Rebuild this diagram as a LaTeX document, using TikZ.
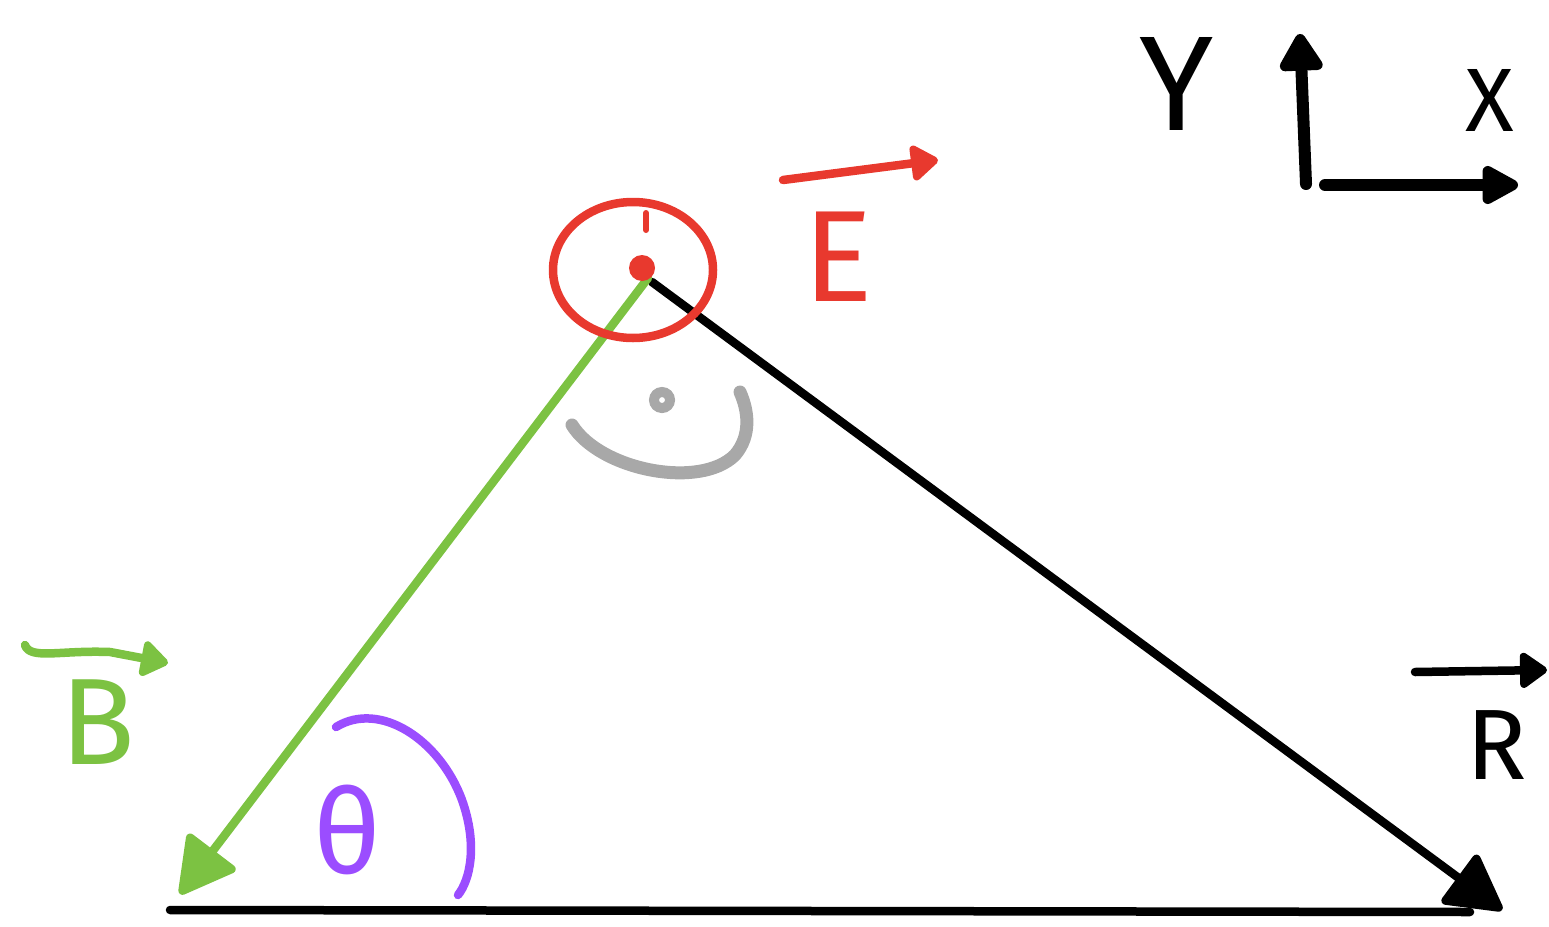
\documentclass[tikz,border=0pt]{standalone}
\usepackage{fontspec}
\setmainfont{Fira Sans}
\usetikzlibrary{arrows.meta,shapes.geometric}
\definecolor{cred}{HTML}{E8392E}
\definecolor{cgreen}{HTML}{7CC242}
\definecolor{cpurple}{HTML}{9B4DFF}
\definecolor{cgray}{HTML}{A8A8A8}
\tikzset{
  ink/.style={line width=8.5pt, line cap=round, line join=round},
  lbl/.style={inner sep=0pt, anchor=center},
  bigtip/.style={-{Triangle[round,length=60pt,width=64pt]}},
  smalltip/.style={-{Triangle[round,length=30pt,width=40pt]}},
}
\begin{document}
\begin{tikzpicture}[x=1pt,y=-1pt]
\useasboundingbox (0,0) rectangle (1549,926);
% vertices
\coordinate (E) at (642,268);
\coordinate (Bt) at (180,894);
\coordinate (Rt) at (1502,910);
\coordinate (O) at (170,910);
% base line
\draw[ink, black] (O) -- (1470,912);
% black diagonal with arrow
\draw[ink, black, bigtip] (652,282) -- (Rt);
% green arrow
\draw[ink, cgreen, bigtip] (E) ++(6,10) -- (Bt);
% red circle and dot
\node[draw=cred, line width=8.5pt, ellipse, minimum width=160pt, minimum height=136pt, inner sep=0pt] (circ) at (633,270) {};
\node[fill=cred, circle, minimum size=26pt, inner sep=0pt] (dot) at (E) {};
\draw[ink, cred, line width=6pt] (646,213) -- (646,230);
% E label
\node[lbl, text=cred, font=\fontsize{130}{130}\selectfont] (Elbl) at (838,257) {E};
\coordinate (Ea1) at (783,180);
\coordinate (Ea2) at (938,160);
\draw[ink, cred, smalltip] (Ea1) -- (Ea2);
% gray right-angle mark
\node[draw=cgray, circle, line width=10pt, minimum size=16pt, inner sep=0pt] (gdot) at (662,400) {};
\draw[cgray, line width=13pt, line cap=round] (572,425) .. controls (600,470) and (700,490) .. (735,455) .. controls (752,435) and (748,410) .. (740,392);
% purple angle arc and theta
\draw[ink, cpurple] (336,727) .. controls (380,700) and (440,740) .. (462,800) .. controls (478,845) and (470,880) .. (458,895);
\node[lbl, text=cpurple, font=\fontsize{118}{118}\selectfont] (th) at (347,830) {θ};
% B label
\node[lbl, text=cgreen, font=\fontsize{123}{123}\selectfont] (Blbl) at (98,722) {B};
\coordinate (Ba1) at (25,645);
\coordinate (Ba2) at (168,663);
\draw[ink, cgreen, smalltip] (Ba1) .. controls (30,660) and (60,650) .. (110,652) -- (Ba2);
% R label
\node[lbl, text=black, font=\fontsize{100}{100}\selectfont] (Rlbl) at (1497,745) {R};
\coordinate (Ra1) at (1415,672);
\coordinate (Ra2) at (1547,670);
\draw[ink, black, smalltip] (Ra1) -- (Ra2);
% axes
\coordinate (ax0) at (1306,184);
\coordinate (ayt) at (1300,34);
\coordinate (axt) at (1518,185);
\draw[line width=12pt, line cap=round, -{Triangle[round,length=42pt,width=48pt]}] (ax0) -- (ayt);
\draw[line width=12pt, line cap=round, -{Triangle[round,length=42pt,width=42pt]}] (1325,185) -- (axt);
\node[lbl, font=\fontsize{135}{135}\selectfont] (Ylbl) at (1177,84) {Y};
\node[lbl, font=\fontsize{90}{90}\selectfont] (Xlbl) at (1490,100) {X};
\end{tikzpicture}
\end{document}
